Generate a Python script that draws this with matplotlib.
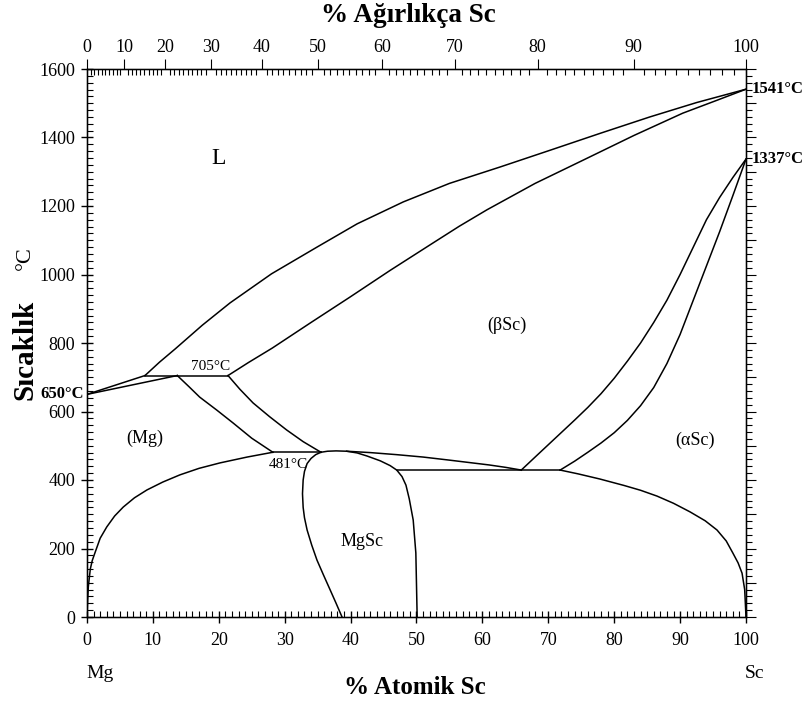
import numpy as np
import matplotlib.pyplot as plt
from matplotlib.ticker import MultipleLocator, FixedLocator

plt.rcParams['font.family'] = ['Liberation Serif', 'DejaVu Serif']

# phase boundaries, (at.% Sc, temperature C)
liq_mg_x = [0, 8.8]
liq_mg_t = [650, 705]
liquidus_x = [8.8, 11.0, 13.4, 17.5, 21.7, 28.0, 34.9, 41.0, 48.0, 55.0, 62.7, 70.3, 78.0, 85.4, 92.5, 100]
liquidus_t = [705, 744, 783, 852, 917, 1002, 1080, 1148, 1212, 1266, 1314, 1363, 1413, 1460, 1502, 1541]
solidus_x = [21.4, 24.5, 28.1, 34.0, 39.9, 46.0, 52.5, 56.5, 60.7, 68.0, 75.3, 83.0, 90.4, 95.5, 100]
solidus_t = [705, 743, 785, 860, 934, 1012, 1092, 1141, 1189, 1266, 1334, 1406, 1471, 1508, 1541]
sol_mg_x = [0, 13.7]
sol_mg_t = [650, 705]
per_x = [8.8, 21.4]
per_t = [705, 705]
mg_bnd_x = [13.7, 15.5, 17.1, 19.7, 22.2, 25.0, 28.2]
mg_bnd_t = [705, 672, 642, 604, 566, 522, 481]
b_bnd_x = [21.4, 23.2, 25.2, 27.7, 30.3, 32.8, 35.5]
b_bnd_t = [705, 665, 625, 585, 546, 512, 481]
mg_solvus_x = [0, 0.1, 0.2, 0.5, 0.8, 1.2, 2.0, 3.0, 4.2, 5.5, 7.2, 9.1, 11.5, 14.1, 17.0, 20.2, 24.3, 28.2]
mg_solvus_t = [0, 50, 88, 140, 165, 187, 230, 263, 295, 321, 348, 371, 394, 415, 434, 450, 467, 481]
eut1_x = [28.2, 35.5]
eut1_t = [481, 481]
mgsc_l_x = [35.5, 34.7, 34.0, 33.4, 33.0, 32.8, 32.7, 32.8, 33.0, 33.4, 34.1, 34.9, 35.9, 36.9, 37.8, 38.7]
mgsc_l_t = [481, 474, 463, 448, 425, 400, 360, 320, 290, 254, 210, 166, 122, 79, 40, 0]
mgsc_top_x = [35.5, 36.5, 37.8, 39.4, 41.0, 42.5, 44.5, 46.0, 47.0, 47.8, 48.4, 48.9, 49.5, 49.9, 50.1]
mgsc_top_t = [481, 484, 485, 484, 479, 470, 456, 442, 429, 410, 385, 345, 283, 187, 0]
b_low_x = [39.4, 43.0, 47.0, 51.0, 55.0, 58.0, 61.0, 63.5, 65.9]
b_low_t = [484, 480, 474, 467, 458, 451, 444, 437, 429]
eut2_x = [47.0, 71.8]
eut2_t = [429, 429]
ab_l_x = [65.9, 68, 70, 72, 74, 76, 78, 80, 82, 84, 86, 88, 90, 92, 94, 96, 98, 100]
ab_l_t = [429, 467, 503, 539, 575, 612, 652, 697, 747, 800, 860, 925, 1000, 1080, 1160, 1225, 1283, 1337]
ab_r_x = [71.8, 74, 76, 78, 80, 82, 84, 86, 88, 90, 92, 94, 96, 98, 100]
ab_r_t = [429, 455, 481, 508, 538, 574, 617, 670, 740, 825, 925, 1025, 1125, 1230, 1337]
a_solvus_x = [71.8, 74.5, 77.8, 81.5, 84.0, 86.5, 89.0, 91.5, 93.8, 95.6, 97.0, 98.0, 98.8, 99.4, 99.8, 100]
a_solvus_t = [429, 418, 403, 384, 370, 353, 332, 307, 281, 254, 222, 187, 158, 128, 80, 0]

# atomic mass, for top weight axis
m_mg = 24.305
m_sc = 44.956
wt_ticks = np.arange(0, 101, 10)
wt_minor = np.arange(0, 101, 1)


def wt_to_at(w):
    w = np.asarray(w, dtype=float)
    n_sc = w / m_sc
    n_mg = (100 - w) / m_mg
    return 100 * n_sc / (n_sc + n_mg)


fig = plt.figure(figsize=(8.02, 7.06), dpi=100)
ax = fig.add_axes([87 / 802, 89 / 706, 659 / 802, 548 / 706])

curves = [(liq_mg_x, liq_mg_t), (liquidus_x, liquidus_t), (solidus_x, solidus_t),
          (sol_mg_x, sol_mg_t), (per_x, per_t), (mg_bnd_x, mg_bnd_t),
          (b_bnd_x, b_bnd_t), (mg_solvus_x, mg_solvus_t), (eut1_x, eut1_t),
          (mgsc_l_x, mgsc_l_t), (mgsc_top_x, mgsc_top_t), (b_low_x, b_low_t),
          (eut2_x, eut2_t), (ab_l_x, ab_l_t), (ab_r_x, ab_r_t),
          (a_solvus_x, a_solvus_t)]
for cx, ct in curves:
    ax.plot(cx, ct, color='black', lw=1.1, solid_joinstyle='round')

ax.set_xlim(0, 100)
ax.set_ylim(0, 1600)
for s in ['top', 'right', 'bottom', 'left']:
    ax.spines[s].set_linewidth(1.0)

ax.xaxis.set_major_locator(MultipleLocator(10))
ax.xaxis.set_minor_locator(MultipleLocator(1))
ax.yaxis.set_major_locator(MultipleLocator(200))
ax.yaxis.set_minor_locator(MultipleLocator(20))
ax.tick_params(axis='both', which='major', direction='inout', length=9, width=1,
               labelsize=13, top=False, right=False)
ax.tick_params(axis='both', which='minor', direction='in', length=4, width=0.8,
               top=False, right=False)
ax.tick_params(axis='x', which='major', pad=6)
ax.tick_params(axis='y', which='major', pad=4)

# right axis ticks
axr = ax.twinx()
axr.set_ylim(0, 1600)
axr.yaxis.set_major_locator(MultipleLocator(100))
axr.yaxis.set_minor_locator(MultipleLocator(20))
axr.tick_params(axis='y', which='major', direction='out', length=7, labelright=False)
axr.tick_params(axis='y', which='minor', direction='out', length=4, width=0.8)

# top axis in weight percent
axt = ax.twiny()
axt.set_xlim(0, 100)
axt.xaxis.set_major_locator(FixedLocator(wt_to_at(wt_ticks)))
axt.xaxis.set_minor_locator(FixedLocator(wt_to_at(wt_minor)))
axt.set_xticklabels([str(int(v)) for v in wt_ticks])
axt.tick_params(axis='x', which='major', direction='out', length=7, labelsize=13, pad=2)
axt.tick_params(axis='x', which='minor', direction='in', length=4, width=0.8)

# phase labels
ax.text(20, 1340, 'L', fontsize=17, ha='center', va='center')
ax.text(63.7, 853, '(βSc)', fontsize=13, ha='center', va='center')
ax.text(8.8, 523, '(Mg)', fontsize=13, ha='center', va='center')
ax.text(92.3, 517, '(αSc)', fontsize=13, ha='center', va='center')
ax.text(41.7, 219, 'MgSc', fontsize=13, ha='center', va='center')
ax.text(18.8, 732, '705°C', fontsize=11, ha='center', va='center')
ax.text(30.5, 445, '481°C', fontsize=11, ha='center', va='center')
ax.text(-0.4, 650, '650°C', fontsize=12, fontweight='bold', ha='right', va='center')
ax.text(100.8, 1541, '1541°C', fontsize=12, fontweight='bold', ha='left', va='center')
ax.text(100.8, 1337, '1337°C', fontsize=12, fontweight='bold', ha='left', va='center')

fig.text(100 / 802, 1 - 673 / 706, 'Mg', fontsize=14, ha='center', va='center')
fig.text(755 / 802, 1 - 673 / 706, 'Sc', fontsize=14, ha='center', va='center')
fig.text(415 / 802, 1 - 688 / 706, '% Atomik Sc', fontsize=18, fontweight='bold',
         ha='center', va='center')
fig.text(408 / 802, 1 - 15 / 706, '% Ağırlıkça Sc', fontsize=19.5, fontweight='bold',
         ha='center', va='center')
fig.text(25 / 802, 1 - 350 / 706, 'Sıcaklık', fontsize=21, fontweight='bold',
         rotation=90, ha='center', va='center')
fig.text(25 / 802, 1 - 258 / 706, '°C', fontsize=16, rotation=90,
         ha='center', va='center')

fig.savefig('out.png', dpi=100)
